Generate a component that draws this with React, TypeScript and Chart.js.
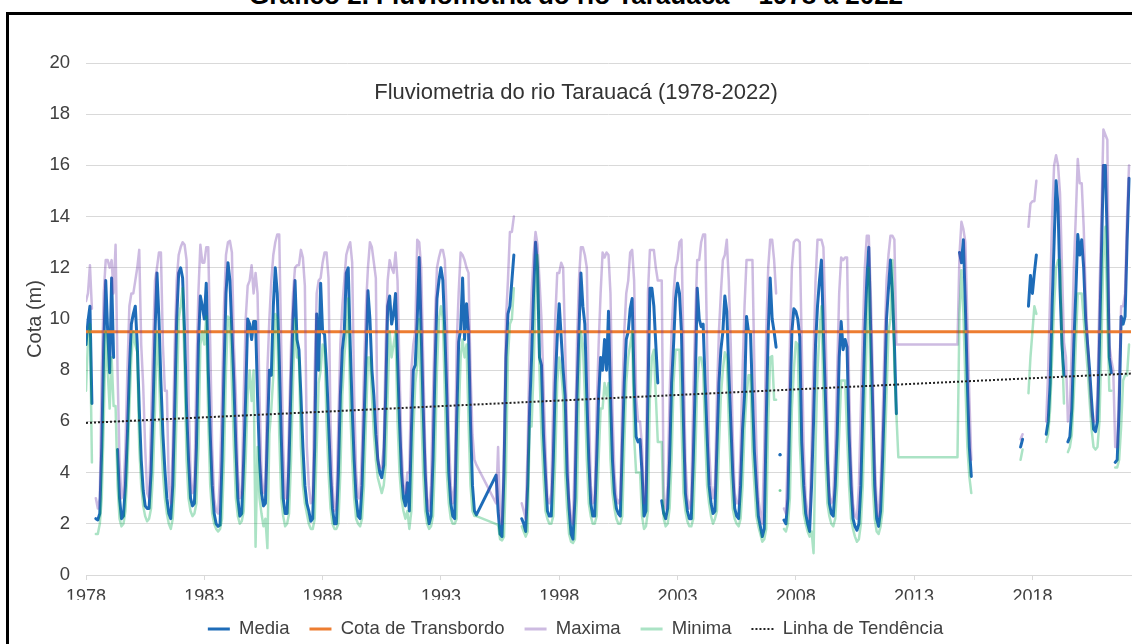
import React, { useEffect, useRef } from 'react';
import { Chart, registerables } from 'chart.js';

Chart.register(...registerables);

const _ = undefined; // month with no row (line connects across)
const N = null; // blank cell (line breaks)

const FONT = '"Liberation Sans", Arial, Helvetica, sans-serif';

const xTickLabels = ['1978', '1983', '1988', '1993', '1998', '2003', '2008', '2013', '2018'];
const monthsPerLabel = 60;
const lastMonth = 530;
const cotaTransbordo = 9.5;
const tendencia = [5.94, 7.87];

// monthly values, one row per year starting Jan 1978
const media = [
  9.0, 9.9, 10.5, 6.7, N, 2.2, 2.15, 2.4, 5.0, 9.0, 11.5, 9.5, // 1978
  7.9, 11.6, 8.5, N, 4.9, 3.0, 2.2, 2.3, 3.5, 5.5, 8.0, 9.8, // 1979
  10.2, 10.5, 9.0, 6.5, 4.5, 3.3, 2.7, 2.6, 2.6, 4.0, 6.5, 9.5, // 1980
  11.8, 10.0, 7.5, 5.5, 4.1, 3.0, 2.4, 2.2, 3.5, 6.5, 10.0, 11.8, // 1981
  12.0, 11.6, 9.5, 6.5, 4.5, 3.0, 2.7, 2.8, 5.0, 9.0, 10.9, 10.5, // 1982
  10.0, 11.4, 8.0, 5.5, 3.5, 2.4, 2.0, 1.9, 1.95, 4.5, 8.0, 11.0, // 1983
  12.2, 11.5, 9.5, 7.5, 5.0, 3.0, 2.3, 2.4, 4.5, 7.0, 10.0, 9.8, // 1984
  9.2, 9.9, 9.9, 7.0, 4.5, 3.2, 2.7, 2.8, 5.5, 8.0, 7.8, 10.5, // 1985
  12.0, 11.0, 8.5, 5.5, 3.0, 2.4, 2.4, 4.5, 7.5, 10.0, 11.5, 9.2, // 1986
  8.8, 7.0, 5.0, 3.5, 2.8, 2.5, 2.1, 2.2, 5.0, 10.2, 8.0, 11.4, // 1987
  9.5, 9.4, 8.0, 6.0, 4.0, 2.6, 2.0, 2.0, 4.0, 7.0, 8.8, 9.5, // 1988
  11.8, 12.0, 9.0, 6.5, 4.5, 3.0, 2.3, 2.2, 3.5, 6.0, 8.5, 11.1, // 1989
  10.0, 8.0, 7.0, 5.5, 4.5, 4.0, 3.8, 4.3, 7.0, 10.5, 10.9, 9.8, // 1990
  10.2, 11.0, 8.5, 6.0, 4.0, 3.0, 2.7, 3.6, 2.5, 5.5, 8.0, 8.2, // 1991
  10.0, 12.4, 9.5, 6.5, 4.0, 2.5, 2.0, 2.3, 4.5, 8.0, 10.8, 11.5, // 1992
  12.0, 11.5, 9.5, 7.0, 4.0, 2.8, 2.3, 2.2, 6.0, 9.1, 9.6, 11.6, // 1993
  9.2, 10.6, 9.5, 6.0, 3.5, 2.5, 2.35, _, _, _, _, _, // 1994
  _, _, _, _, 3.9, 2.5, 1.6, 1.5, 4.0, 8.5, 10.2, 10.5, // 1995
  11.5, 12.5, N, N, N, 2.2, 2.0, 1.7, 3.5, 6.5, 8.5, 11.0, // 1996
  13.0, 12.0, 8.5, 8.2, 5.5, 3.9, 2.5, 2.3, 2.3, 4.5, 7.5, 9.3, // 1997
  10.6, 9.3, 8.0, 7.0, 4.0, 2.6, 1.6, 1.4, 3.0, 7.0, 9.5, 11.8, // 1998
  10.5, 9.8, 7.0, 4.5, 2.8, 2.3, 2.3, 4.5, 7.0, 8.5, 8.0, 9.2, // 1999
  8.0, 10.3, 7.0, 4.5, 3.2, 2.6, 2.4, 2.3, 5.0, 7.5, 9.2, 9.5, // 2000
  10.4, 10.8, 7.5, 5.4, 5.2, 5.3, 4.0, 2.3, 2.5, 7.0, 11.2, 11.2, // 2001
  10.5, 9.0, 7.5, N, 2.9, 2.4, 2.2, 2.6, 4.5, 7.5, 9.0, 10.8, // 2002
  11.4, 11.0, 9.5, 6.0, 3.2, 2.5, 2.2, 2.2, 4.5, 7.5, 11.2, 10.0, // 2003
  9.7, 9.8, 7.5, 5.5, 3.5, 2.8, 2.4, 2.5, 5.0, 7.5, 8.8, 9.5, // 2004
  10.9, 10.3, 8.0, 6.0, 4.0, 2.6, 2.3, 2.2, 3.5, 5.7, 7.0, 10.1, // 2005
  9.5, 9.5, 7.0, 4.8, 3.5, 2.3, 1.9, 1.5, 1.8, 6.0, 9.5, 11.6, // 2006
  10.0, 9.5, 8.9, N, 4.7, N, 2.15, 2.0, 3.0, 6.5, 9.5, 10.4, // 2007
  10.3, 10.0, 9.3, 5.2, 3.5, 2.4, 2.0, 1.7, 3.5, 6.0, 9.0, 10.5, // 2008
  11.5, 12.3, 9.5, 7.0, 4.5, 2.8, 2.4, 2.3, 3.5, 5.5, 8.5, 9.9, // 2009
  8.8, 9.2, 8.9, 5.5, 3.5, 2.2, 1.9, 1.75, 2.0, 3.5, 6.5, 9.5, // 2010
  11.5, 12.8, 9.5, 6.5, 3.5, 2.2, 1.9, 2.5, 4.5, 7.0, 10.0, 11.2, // 2011
  12.3, 11.0, 9.0, 6.3, N, N, N, N, N, N, N, N, // 2012
  N, N, N, N, N, N, N, N, N, N, N, N, // 2013
  N, N, N, N, N, N, N, N, N, N, N, 12.6, // 2014
  12.2, 13.1, 10.5, 7.5, 5.0, 3.85, N, N, N, N, N, N, // 2015
  N, N, N, N, N, N, N, N, N, N, N, N, // 2016
  N, N, N, N, N, N, 5.0, 5.3, N, N, 10.5, 11.7, // 2017
  11.0, 11.8, 12.5, N, N, N, N, 5.5, 6.0, 7.5, 10.5, 13.0, // 2018
  15.4, 14.4, 11.2, 9.0, 7.8, N, 5.2, 5.4, 6.5, 9.0, 11.0, 13.3, // 2019
  12.5, 13.1, 12.0, 10.0, 9.0, 8.0, 6.8, 5.7, 5.6, 6.0, 9.0, 12.5, // 2020
  16.0, 16.0, 13.0, 8.5, 7.9, N, 4.4, 4.5, 6.5, 10.1, 9.8, 10.1, // 2021
  13.0, 15.5, // 2022
];

const maxima = [
  10.7, 11.0, 12.1, 10.4, N, 3.0, 2.6, 3.0, 8.0, 11.0, 12.3, 12.3, // 1978
  12.0, 12.3, 11.0, 12.9, 8.0, 4.5, 3.0, 3.2, 5.0, 8.0, 10.5, 11.0, // 1979
  11.0, 11.5, 12.0, 12.7, 9.0, 7.4, 5.0, 3.2, 3.0, 6.0, 9.0, 11.5, // 1980
  12.0, 12.6, 12.6, 9.0, 7.2, 7.2, 3.5, 2.8, 5.0, 9.0, 11.5, 12.5, // 1981
  12.8, 13.0, 12.9, 12.3, 7.0, 4.0, 3.2, 3.5, 8.0, 11.0, 12.9, 12.2, // 1982
  12.2, 12.8, 12.8, 9.0, 5.0, 3.0, 2.5, 2.4, 4.0, 7.0, 10.5, 12.5, // 1983
  13.0, 13.05, 12.6, 9.0, 7.0, 4.0, 3.0, 3.2, 7.0, 10.0, 11.3, 11.5, // 1984
  12.1, 11.0, 11.8, 11.0, 7.0, 4.0, 3.2, 3.5, 8.0, 10.0, 11.5, 12.5, // 1985
  13.0, 13.3, 13.3, 9.0, 5.0, 3.0, 3.0, 6.0, 9.0, 11.0, 12.0, 12.1, // 1986
  12.1, 12.7, 12.4, 11.3, 5.0, 3.5, 2.8, 3.0, 8.0, 11.0, 11.5, 11.6, // 1987
  12.2, 12.6, 12.6, 11.6, 6.0, 3.5, 2.5, 2.8, 6.0, 9.0, 10.5, 11.5, // 1988
  12.5, 12.8, 13.0, 12.2, 7.0, 4.0, 3.0, 3.0, 5.0, 8.0, 10.5, 12.0, // 1989
  13.0, 12.8, 12.2, 11.6, 4.5, 4.2, 4.2, 5.0, 9.0, 11.5, 12.3, 12.0, // 1990
  11.8, 12.6, 11.5, 8.0, 5.0, 3.5, 3.2, 4.0, 4.0, 8.0, 9.0, 9.5, // 1991
  13.1, 13.0, 12.0, 8.5, 5.0, 3.0, 2.5, 3.5, 7.0, 10.0, 12.0, 12.4, // 1992
  12.7, 12.7, 12.3, 10.0, 5.5, 3.5, 2.8, 3.5, 9.0, 11.0, 12.6, 12.5, // 1993
  12.3, 12.0, 11.8, 8.0, 5.5, 4.5, 4.3, _, _, _, _, _, // 1994
  _, _, _, _, 2.8, 5.0, 2.2, 2.0, 5.0, 10.0, 11.5, 13.4, // 1995
  13.4, 14.0, N, N, N, 2.8, 2.5, 2.2, 5.0, 9.0, 11.0, 12.5, // 1996
  13.4, 12.9, 11.5, 10.0, 7.5, 5.0, 3.0, 2.8, 3.2, 7.0, 10.0, 11.8, // 1997
  11.8, 12.2, 12.0, 9.0, 5.5, 3.0, 2.2, 2.0, 5.0, 9.0, 11.5, 12.8, // 1998
  12.8, 12.5, 12.0, 7.0, 3.5, 2.8, 3.0, 6.5, 9.0, 11.0, 12.6, 12.4, // 1999
  12.6, 12.5, 11.0, 6.5, 4.0, 3.0, 2.8, 3.0, 7.0, 9.5, 11.0, 11.5, // 2000
  12.6, 12.7, 11.5, 7.0, 6.0, 6.0, 5.0, 2.8, 3.5, 11.0, 12.7, 12.7, // 2001
  12.7, 12.0, 11.5, 11.5, 11.5, 3.0, 2.6, 3.5, 7.0, 9.5, 11.0, 12.0, // 2002
  12.3, 13.0, 13.1, 9.0, 4.5, 3.0, 2.6, 3.0, 7.0, 10.0, 12.3, 12.3, // 2003
  13.0, 13.3, 13.3, 9.0, 5.0, 3.5, 3.0, 3.5, 7.0, 9.5, 11.0, 12.3, // 2004
  12.5, 13.1, 11.5, 9.0, 5.5, 3.2, 2.8, 2.8, 5.0, 8.0, 10.5, 12.3, // 2005
  12.3, 12.3, 12.3, 8.0, 5.0, 3.0, 2.4, 2.0, 5.0, 9.5, 12.0, 13.1, // 2006
  13.1, 12.3, 11.0, N, N, N, 2.6, 2.4, 5.0, 9.0, 12.0, 13.0, // 2007
  13.1, 13.1, 13.0, 9.0, 5.0, 3.0, 2.4, 2.2, 5.0, 8.5, 11.5, 13.1, // 2008
  13.1, 13.1, 12.8, 10.0, 6.0, 3.2, 2.8, 3.0, 5.0, 8.0, 11.0, 12.4, // 2009
  12.3, 12.4, 12.4, 7.5, 4.5, 2.8, 2.3, 2.2, 3.5, 6.5, 9.5, 12.0, // 2010
  13.25, 13.25, 11.0, 8.0, 4.5, 2.8, 2.3, 3.5, 6.0, 9.0, 11.5, 12.5, // 2011
  13.25, 13.25, 13.1, 9.0, 9.0, 9.0, 9.0, 9.0, 9.0, 9.0, 9.0, 9.0, // 2012
  9.0, 9.0, 9.0, 9.0, 9.0, 9.0, 9.0, 9.0, 9.0, 9.0, 9.0, 9.0, // 2013
  9.0, 9.0, 9.0, 9.0, 9.0, 9.0, 9.0, 9.0, 9.0, 9.0, 9.0, 12.5, // 2014
  13.8, 13.5, 13.0, 10.0, 7.0, 4.5, N, N, N, N, N, N, // 2015
  N, N, N, N, N, N, N, N, N, N, N, N, // 2016
  N, N, N, N, N, N, 5.3, 5.5, N, N, 13.6, 14.5, // 2017
  14.6, 14.6, 15.4, N, N, N, N, 6.0, 8.0, 11.0, 14.0, 16.0, // 2018
  16.4, 16.0, 14.9, 12.0, 9.1, 8.5, 6.0, 6.5, 9.0, 12.0, 14.0, 16.25, // 2019
  15.3, 15.3, 13.6, 11.0, 9.1, 7.5, 6.2, 6.0, 6.0, 7.0, 11.0, 14.0, // 2020
  17.4, 17.2, 17.0, 9.0, 8.4, 8.0, 5.0, 5.0, 7.5, 10.5, 10.5, 11.0, // 2021
  14.0, 16.0, // 2022
];

const minima = [
  7.2, 9.2, 9.8, 4.4, N, 1.6, 1.6, 2.0, 3.0, 6.0, 9.5, 8.0, // 1978
  6.5, 8.5, 6.6, 6.6, 3.5, 2.2, 1.9, 2.0, 2.5, 4.0, 6.5, 8.5, // 1979
  9.5, 9.0, 8.7, 5.0, 3.5, 2.7, 2.3, 2.1, 2.2, 2.6, 4.0, 6.5, // 1980
  9.5, 8.0, 5.5, 4.0, 3.0, 2.4, 2.0, 1.8, 2.2, 3.5, 6.5, 10.0, // 1981
  10.5, 11.2, 8.0, 4.5, 3.0, 2.5, 2.3, 2.4, 2.8, 5.0, 9.0, 9.5, // 1982
  9.0, 10.1, 6.0, 3.5, 2.4, 2.0, 1.8, 1.7, 1.8, 2.2, 4.5, 8.0, // 1983
  10.1, 10.0, 7.5, 5.0, 3.0, 2.3, 2.0, 2.1, 2.5, 4.5, 7.0, 8.0, // 1984
  6.8, 8.0, 1.1, 5.0, 3.0, 2.4, 1.9, 2.2, 1.05, 5.5, 6.5, 7.8, // 1985
  10.2, 10.0, 5.5, 3.0, 2.3, 1.9, 2.0, 2.4, 4.5, 7.5, 10.0, 8.5, // 1986
  8.5, 5.0, 3.5, 2.8, 2.4, 2.0, 1.8, 1.8, 2.2, 5.0, 7.5, 8.0, // 1987
  9.0, 8.8, 6.0, 4.0, 2.6, 2.0, 1.8, 1.8, 2.0, 4.0, 7.0, 8.5, // 1988
  9.5, 10.8, 6.5, 4.5, 3.0, 2.2, 2.0, 1.9, 2.2, 3.5, 6.0, 8.5, // 1989
  8.5, 7.0, 5.5, 4.5, 3.8, 3.5, 3.2, 3.5, 4.3, 7.0, 9.5, 8.5, // 1990
  9.0, 9.5, 6.0, 4.0, 3.0, 2.5, 2.2, 2.5, 1.8, 2.5, 5.5, 7.5, // 1991
  8.2, 10.0, 6.5, 4.0, 2.5, 2.0, 1.8, 1.9, 2.3, 4.5, 8.0, 10.0, // 1992
  10.5, 10.0, 7.0, 4.0, 2.8, 2.2, 2.0, 2.0, 2.2, 6.0, 8.5, 9.2, // 1993
  8.5, 9.0, 6.0, 3.5, 2.5, 2.3, 2.3, _, _, _, _, _, // 1994
  _, _, _, _, _, 1.96, 1.4, 1.35, 1.5, 4.0, 8.5, 9.8, // 1995
  10.0, 11.2, N, N, N, 1.9, 1.7, 1.5, 1.7, 5.8, 5.8, 8.0, // 1996
  11.0, 12.5, 8.0, 5.5, 3.9, 2.5, 2.2, 2.0, 2.0, 2.3, 4.5, 7.5, // 1997
  8.5, 8.0, 7.0, 4.0, 2.6, 1.6, 1.3, 1.25, 1.4, 3.0, 7.0, 9.5, // 1998
  9.0, 7.0, 4.5, 2.8, 2.3, 2.0, 2.0, 2.3, 4.5, 6.5, 6.5, 7.5, // 1999
  7.0, 7.5, 4.5, 3.2, 2.6, 2.2, 2.0, 2.0, 2.3, 5.0, 7.5, 8.5, // 2000
  9.0, 9.5, 5.4, 4.0, 4.0, 4.0, 2.3, 1.8, 1.9, 2.5, 7.0, 8.5, // 2001
  8.8, 7.0, 5.2, 5.2, 5.2, 2.2, 1.9, 2.0, 2.6, 4.5, 7.5, 8.8, // 2002
  8.8, 8.8, 6.0, 3.2, 2.5, 2.1, 1.9, 1.9, 2.2, 4.5, 7.5, 8.5, // 2003
  8.5, 8.0, 5.5, 3.5, 2.8, 2.3, 2.0, 2.2, 2.5, 5.0, 7.0, 8.0, // 2004
  8.7, 8.5, 6.0, 4.0, 2.6, 2.2, 2.0, 1.9, 2.2, 3.5, 5.7, 7.0, // 2005
  7.8, 7.8, 4.8, 3.5, 2.3, 1.9, 1.6, 1.3, 1.4, 1.8, 6.0, 8.5, // 2006
  8.55, 6.85, 6.85, N, 3.3, N, 1.8, 1.7, 2.0, 3.0, 6.5, 8.0, // 2007
  9.1, 9.0, 5.2, 3.5, 2.4, 2.0, 1.7, 1.5, 1.7, 0.85, 5.0, 8.0, // 2008
  9.5, 10.5, 7.0, 4.5, 2.8, 2.3, 2.0, 1.9, 2.2, 3.5, 5.5, 7.6, // 2009
  7.6, 7.6, 5.5, 3.5, 2.2, 1.8, 1.5, 1.3, 1.4, 2.0, 3.5, 6.5, // 2010
  9.5, 12.0, 6.5, 3.5, 2.2, 1.7, 1.6, 1.9, 2.5, 4.5, 7.0, 9.5, // 2011
  10.0, 12.3, 8.0, 6.3, 4.6, 4.6, 4.6, 4.6, 4.6, 4.6, 4.6, 4.6, // 2012
  4.6, 4.6, 4.6, 4.6, 4.6, 4.6, 4.6, 4.6, 4.6, 4.6, 4.6, 4.6, // 2013
  4.6, 4.6, 4.6, 4.6, 4.6, 4.6, 4.6, 4.6, 4.6, 4.6, 4.6, 10.2, // 2014
  11.9, 10.2, 7.5, 5.0, 3.85, 3.2, N, N, N, N, N, N, // 2015
  N, N, N, N, N, N, N, N, N, N, N, N, // 2016
  N, N, N, N, N, N, 4.5, 4.9, N, N, 7.1, 8.5, // 2017
  9.5, 10.5, 10.2, N, N, N, N, 5.2, 5.5, 6.5, 8.5, 10.5, // 2018
  12.0, 12.3, 12.3, 9.0, 6.7, N, 4.8, 5.0, 5.5, 7.0, 9.0, 11.0, // 2019
  11.0, 11.0, 10.0, 9.0, 8.0, 6.8, 5.7, 5.0, 4.9, 5.0, 6.0, 9.0, // 2020
  12.5, 13.6, 10.0, 7.2, 7.2, N, 4.2, 4.2, 4.5, 5.8, 7.6, 7.8, // 2021
  7.8, 9.0, // 2022
];

type V = number | null | undefined;

function toPoints(values: V[]) {
  return values
    .map((y, x) => ({ x, y }))
    .filter((p) => p.y !== undefined);
}

function isolatedRadius(values: V[]) {
  return (ctx: any) => {
    const raw = ctx.raw;
    if (!raw || raw.y == null) return 0;
    const i = raw.x;
    return values[i - 1] == null && values[i + 1] == null ? 1.6 : 0;
  };
}

const innerTitle = {
  id: 'innerTitle',
  afterDraw(chart: any) {
    const ctx = chart.ctx;
    ctx.save();
    ctx.font = `22px ${FONT}`;
    ctx.fillStyle = '#333333';
    ctx.textAlign = 'center';
    ctx.textBaseline = 'alphabetic';
    ctx.fillText('Fluviometria do rio Tarauacá (1978-2022)', (20 + chart.width) / 2, 98.5);
    ctx.restore();
  },
};

export default function App() {
  const ref = useRef<HTMLCanvasElement>(null);

  useEffect(() => {
    if (!ref.current) return;
    const lineBase = {
      pointHoverRadius: 0,
      pointBorderWidth: 0,
      tension: 0,
      spanGaps: false,
      borderJoinStyle: 'round' as const,
      borderCapStyle: 'round' as const,
      fill: false,
    };
    const chart = new Chart(ref.current, {
      type: 'line',
      data: {
        datasets: [
          {
            ...lineBase,
            label: 'Media',
            data: toPoints(media),
            borderColor: '#1e6cb8',
            backgroundColor: '#1e6cb8',
            pointBackgroundColor: '#1e6cb8',
            borderWidth: 3,
            pointRadius: isolatedRadius(media),
            order: 5,
          },
          {
            ...lineBase,
            label: 'Cota de Transbordo',
            data: [
              { x: 0, y: cotaTransbordo },
              { x: lastMonth, y: cotaTransbordo },
            ],
            borderColor: '#ed7d31',
            backgroundColor: '#ed7d31',
            borderWidth: 3,
            pointRadius: 0,
            order: 4,
          },
          {
            ...lineBase,
            label: 'Maxima',
            data: toPoints(maxima),
            borderColor: 'rgba(112,60,170,0.35)',
            backgroundColor: 'rgba(112,60,170,0.35)',
            pointBackgroundColor: 'rgba(112,60,170,0.35)',
            borderWidth: 2.5,
            pointRadius: isolatedRadius(maxima),
            order: 3,
          },
          {
            ...lineBase,
            label: 'Minima',
            data: toPoints(minima),
            borderColor: 'rgba(0,170,80,0.33)',
            backgroundColor: 'rgba(0,170,80,0.33)',
            pointBackgroundColor: 'rgba(0,170,80,0.33)',
            borderWidth: 2.5,
            pointRadius: isolatedRadius(minima),
            order: 2,
          },
          {
            ...lineBase,
            label: 'Linha de Tendência',
            data: [
              { x: 0, y: tendencia[0] },
              { x: lastMonth, y: tendencia[1] },
            ],
            borderColor: '#222222',
            backgroundColor: '#222222',
            borderWidth: 2,
            borderDash: [2, 2],
            borderCapStyle: 'butt' as const,
            pointRadius: 0,
            order: 1,
          },
        ],
      },
      options: {
        responsive: false,
        animation: false,
        events: [],
        layout: { padding: { left: 20, right: 1, top: 63, bottom: 11.75 } },
        plugins: {
          title: { display: false },
          tooltip: { enabled: false },
          legend: {
            position: 'bottom',
            labels: {
              usePointStyle: true,
              pointStyle: 'line',
              pointStyleWidth: 22,
              padding: 20,
              color: '#404040',
              font: { size: 18.5, family: FONT },
              sort: (a: any, b: any) => a.datasetIndex - b.datasetIndex,
              generateLabels: (ch: any) => {
                const items = (Chart as any).defaults.plugins.legend.labels.generateLabels(ch);
                items.forEach((it: any) => {
                  const ds = ch.data.datasets[it.datasetIndex];
                  it.pointStyle = 'line';
                  it.lineWidth = ds.datasetIndex === 4 ? 2 : ds.borderWidth === 2.5 ? 3 : ds.borderWidth;
                  it.strokeStyle = ds.borderColor;
                  it.fillStyle = ds.borderColor;
                  it.lineDash = ds.borderDash || [];
                  it.lineCap = 'butt';
                });
                return items;
              },
            },
          },
        },
        scales: {
          x: {
            type: 'linear',
            min: 0,
            max: lastMonth,
            afterBuildTicks: (scale: any) => {
              scale.ticks = xTickLabels.map((_l, i) => ({ value: i * monthsPerLabel }));
            },
            afterFit: (scale: any) => {
              scale.height = 24.75;
            },
            ticks: {
              autoSkip: false,
              maxRotation: 0,
              padding: 6,
              color: '#404040',
              font: { size: 18, family: FONT },
              callback: (value: any) => xTickLabels[Math.round(Number(value) / monthsPerLabel)] ?? '',
            },
            grid: { drawOnChartArea: false, drawTicks: true, tickLength: 5, color: '#d9d9d9' },
            border: { display: true, color: '#d9d9d9' },
          },
          y: {
            min: 0,
            max: 20,
            afterFit: (scale: any) => {
              scale.width = 66;
            },
            ticks: {
              stepSize: 2,
              padding: 16,
              color: '#404040',
              font: { size: 18.5, family: FONT },
            },
            grid: { color: '#d9d9d9', drawTicks: false },
            border: { display: false },
            title: {
              display: true,
              text: 'Cota (m)',
              color: '#404040',
              font: { size: 20, family: FONT },
              padding: { top: 3, bottom: 0 },
            },
          },
        },
      },
      plugins: [innerTitle],
    } as any);
    return () => chart.destroy();
  }, []);

  return (
    <div
      style={{
        position: 'fixed',
        left: 0,
        top: 0,
        width: 1132,
        height: 644,
        overflow: 'hidden',
        background: '#ffffff',
      }}
    >
      <div
        style={{
          position: 'absolute',
          left: 0,
          top: -20,
          width: 1152,
          textAlign: 'center',
          font: `bold 26px ${FONT}`,
          lineHeight: '30px',
          color: '#000000',
          whiteSpace: 'nowrap',
        }}
      >
        Gráfico 2. Fluviometria do rio Tarauacá – 1978 a 2022
      </div>
      <div
        style={{
          position: 'absolute',
          left: 6,
          top: 12,
          width: 1200,
          height: 700,
          border: '3px solid #000000',
          boxSizing: 'border-box',
        }}
      />
      <canvas
        ref={ref}
        width={1132}
        height={660}
        style={{ position: 'absolute', left: 0, top: 0, width: 1132, height: 660 }}
      />
    </div>
  );
}
